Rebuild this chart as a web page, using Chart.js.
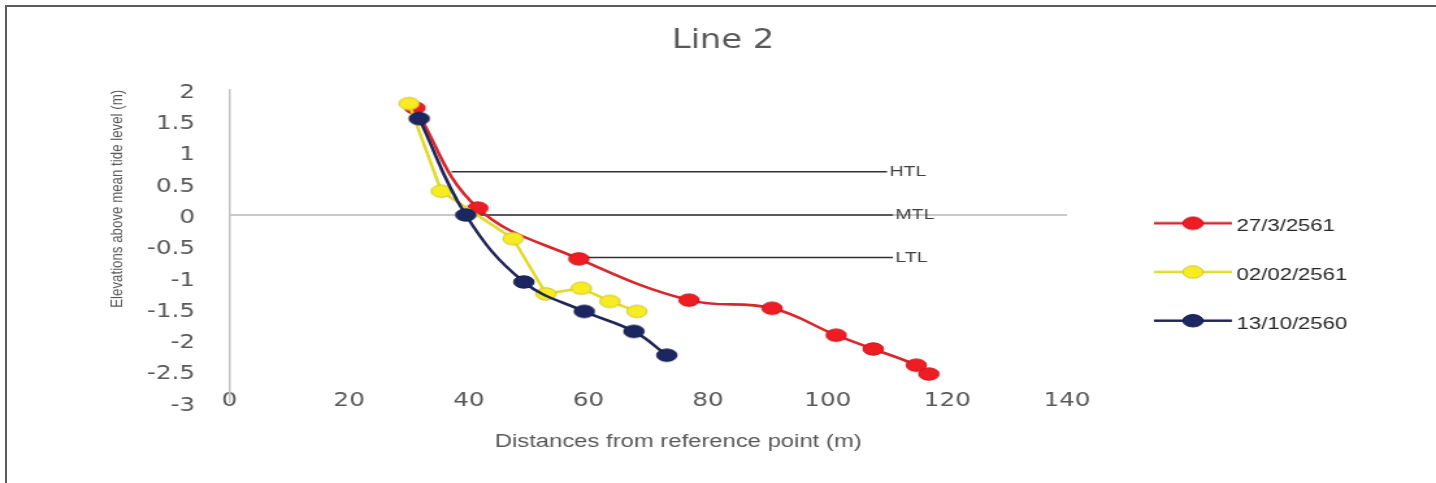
<!DOCTYPE html>
<html>
<head>
<meta charset="utf-8">
<title>Line 2</title>
<script src="https://cdn.jsdelivr.net/npm/chart.js"></script>
<style>
  html, body { margin: 0; padding: 0; background: #ffffff; width: 1436px; height: 483px; overflow: hidden; }
  #wrap { position: relative; width: 1436px; height: 483px; }
  #profile { position: absolute; left: 0; top: 0; }
  #frame { position: absolute; left: 5px; top: 5px; right: 0; bottom: 0;
           border-left: 2px solid #5c5c5c; border-top: 2px solid #5c5c5c; pointer-events: none; }
</style>
</head>
<body>
<div id="wrap">
  <canvas id="profile" width="1105" height="483" style="width:1436px;height:483px;"></canvas>
  <div id="frame"></div>
</div>
<script>
// Beach profile survey, Line 2: distance from the reference point (m) vs elevation (m)
const seriesNames = ['27/3/2561', '02/02/2561', '13/10/2560'];

const survey1X = [31.0, 41.5, 58.4, 76.8, 90.7, 101.4, 107.6, 114.8, 116.9];
const survey1Y = [1.71, 0.11, -0.70, -1.36, -1.49, -1.92, -2.14, -2.40, -2.54];

const survey2X = [30.0, 35.4, 47.4, 52.9, 58.8, 63.6, 68.1];
const survey2Y = [1.78, 0.38, -0.38, -1.26, -1.17, -1.38, -1.54];

const survey3X = [31.7, 39.5, 49.2, 59.3, 67.6, 73.1];
const survey3Y = [1.54, 0.00, -1.07, -1.54, -1.86, -2.24];

// Tide levels: high, mean and low tide lines
const tideNames = ['HTL', 'MTL', 'LTL'];
const tideLevels = [0.69, 0.00, -0.68];
const tideStart = [37.1, 41.5, 58.4];
const tideEnd = [109.9, 110.9, 110.9];

// Zero-elevation axis line
const zeroLineX = [0, 140];

const xTicks = [0, 20, 40, 60, 80, 100, 120, 140];
const yTicks = [-3, -2.5, -2, -1.5, -1, -0.5, 0, 0.5, 1, 1.5, 2];

const WIDE = "'DejaVu Sans', sans-serif";
const PLAIN = "'Liberation Sans', Arial, sans-serif";

const seriesStyle = [
  { line: '#d9262c', fill: '#ef1c24', stroke: '#c4161c' },
  { line: '#e4da2c', fill: '#f6ec1f', stroke: '#cfc43f' },
  { line: '#1f2757', fill: '#1c2660', stroke: '#141d4c' }
];

function markerImage(s) {
  const c = document.createElement('canvas');
  c.width = 20; c.height = 16;
  const g = c.getContext('2d');
  g.beginPath();
  g.ellipse(10, 8, 7.8, 6.2, 0, 0, Math.PI * 2);
  g.fillStyle = s.fill; g.fill();
  g.lineWidth = 1; g.strokeStyle = s.stroke; g.stroke();
  return c;
}

function legendImage(s) {
  const c = document.createElement('canvas');
  c.width = 60; c.height = 30;
  const g = c.getContext('2d');
  const cy = 15 - 3.2;
  g.beginPath(); g.moveTo(0, cy); g.lineTo(60, cy);
  g.lineWidth = 2.4; g.strokeStyle = s.line; g.stroke();
  g.beginPath();
  g.ellipse(30, cy, 7.8, 6.2, 0, 0, Math.PI * 2);
  g.fillStyle = s.fill; g.fill();
  g.lineWidth = 1; g.strokeStyle = s.stroke; g.stroke();
  return c;
}

const toPoints = (xs, ys) => xs.map((x, i) => ({ x: x, y: ys[i] }));
const seriesX = [survey1X, survey2X, survey3X];
const seriesY = [survey1Y, survey2Y, survey3Y];
const seriesOrder = [3, 2, 1];
const seriesTension = [0.4, 0, 0.4];
const legendImages = seriesStyle.map(legendImage);

const datasets = seriesNames.map((name, i) => ({
  label: name,
  data: toPoints(seriesX[i], seriesY[i]),
  borderColor: seriesStyle[i].line,
  borderWidth: 2.6,
  tension: seriesTension[i],
  pointStyle: markerImage(seriesStyle[i]),
  pointRadius: 7,
  pointHoverRadius: 7,
  fill: false,
  order: seriesOrder[i]
}));

tideNames.forEach((name, i) => {
  datasets.push({
    label: name,
    data: [{ x: tideStart[i], y: tideLevels[i] }, { x: tideEnd[i], y: tideLevels[i] }],
    borderColor: '#333333',
    borderWidth: 1.6,
    pointRadius: 0,
    tension: 0,
    fill: false,
    order: 4
  });
});

datasets.push({
  label: 'zero',
  data: zeroLineX.map(x => ({ x: x, y: 0 })),
  borderColor: '#c9c9c9',
  borderWidth: 2,
  pointRadius: 0,
  tension: 0,
  fill: false,
  order: 5
});

// Writes HTL / MTL / LTL at the right end of each tide line
const tideLabels = {
  id: 'tideLabels',
  afterDatasetsDraw(chart) {
    const { ctx, scales } = chart;
    ctx.save();
    ctx.font = "15px " + PLAIN;
    ctx.fillStyle = '#404040';
    ctx.textAlign = 'left';
    ctx.textBaseline = 'middle';
    tideNames.forEach((name, i) => {
      const px = scales.x.getPixelForValue(tideEnd[i]) + 2;
      const py = scales.y.getPixelForValue(tideLevels[i]);
      ctx.fillText(name, px, py);
    });
    ctx.restore();
  }
};

// Plot-area frame (canvas pixels)
const CANVAS_W = 1105;
const PLOT_LEFT = 176.6;
const PLOT_RIGHT = 867.1;     // x = 150
const PLOT_BOTTOM = 402.8;

// Legend geometry
const legendFont = { family: PLAIN, size: 17, lineHeight: 1.3471 };
const legendPadding = 25.8;
const legendBoxWidth = 50.2;
const measure = document.createElement('canvas').getContext('2d');
measure.font = 'normal ' + legendFont.size + 'px ' + legendFont.family;
const widestLabel = Math.max(...seriesNames.map(s => measure.measureText(s).width));
const legendWidth = legendPadding + legendBoxWidth + legendFont.size / 2 + widestLabel + 10;
const padRight = Math.max(0, CANVAS_W - PLOT_RIGHT - legendWidth);
const padLeft = Math.min(75, padRight + 7.8);

new Chart(document.getElementById('profile'), {
  type: 'line',
  data: { datasets: datasets },
  plugins: [tideLabels],
  options: {
    responsive: false,
    animation: false,
    devicePixelRatio: 1,
    events: [],
    layout: { padding: { left: padLeft, top: 0, bottom: 483 - PLOT_BOTTOM, right: padRight } },
    plugins: {
      tooltip: { enabled: false },
      title: {
        display: true,
        text: 'Line 2',
        color: '#595959',
        font: { family: WIDE, size: 26, weight: 'normal', lineHeight: 1.2 },
        padding: { top: 25.4, bottom: 33.2 }
      },
      legend: {
        display: true,
        position: 'right',
        align: 'center',
        title: { display: true, text: '', font: { size: 10, lineHeight: 1.2 }, padding: { top: 0, bottom: 141.5 } },
        labels: {
          usePointStyle: true,
          pointStyleWidth: legendBoxWidth,
          padding: legendPadding,
          color: '#262626',
          font: legendFont,
          generateLabels: () => seriesNames.map((name, i) => ({
            text: [name],
            pointStyle: legendImages[i],
            fillStyle: seriesStyle[i].fill,
            strokeStyle: seriesStyle[i].line,
            lineWidth: 0,
            hidden: false,
            datasetIndex: i,
            fontColor: '#262626'
          }))
        }
      }
    },
    scales: {
      x: {
        type: 'linear',
        position: { y: -3 },
        min: 0,
        max: 150,
        grid: { display: false, drawTicks: false },
        border: { display: false },
        afterBuildTicks: (s) => { s.ticks = xTicks.map(v => ({ value: v })); },
        afterFit: (s) => { s.height = 483 - PLOT_BOTTOM; },
        ticks: {
          autoSkip: false,
          maxRotation: 0,
          padding: -13,
          color: '#595959',
          font: { family: WIDE, size: 19 },
          callback: (v) => String(v)
        },
        title: {
          display: true,
          text: 'Distances from reference point (m)',
          color: '#595959',
          font: { family: PLAIN, size: 18.35, lineHeight: 1.2 },
          padding: { top: 0, bottom: 30 }
        }
      },
      y: {
        type: 'linear',
        min: -3,
        max: 2,
        grid: { display: false, drawTicks: false },
        border: { display: true, color: '#c3c3c3', width: 1.5 },
        afterBuildTicks: (s) => { s.ticks = yTicks.map(v => ({ value: v })); },
        afterFit: (s) => { s.width = PLOT_LEFT - padLeft; },
        ticks: {
          autoSkip: false,
          padding: 26.5,
          labelOffset: 3,
          color: '#595959',
          font: { family: WIDE, size: 19 },
          callback: (v) => String(v)
        },
        title: {
          display: true,
          align: 'end',
          text: 'Elevations above mean tide level (m)',
          color: '#595959',
          font: { family: PLAIN, size: 13.3, lineHeight: 1.2 },
          padding: { top: 82.0 - padLeft, bottom: 0 }
        }
      }
    }
  }
});
</script>
</body>
</html>
